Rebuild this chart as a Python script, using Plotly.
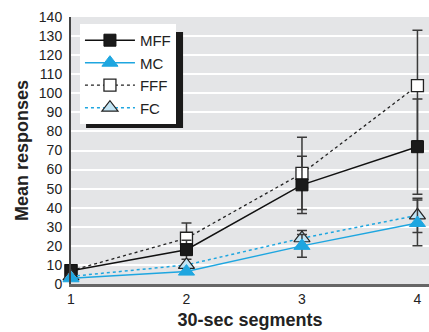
import plotly.graph_objects as go

segments = [1, 2, 3, 4]
mff = [7, 18, 52, 72]
mff_err = [0, 5, 15, 25]
mc = [3, 6.5, 20, 32]
mc_err = [0, 0, 6, 12]
fff = [7, 24, 58, 104]
fff_err = [0, 8, 19, 29]
fc = [4, 10, 24, 36]
fc_err = [0, 0, 4, 9]
y_ticks = list(range(0, 141, 10))

FONT = "Liberation Sans Narrow, Arial Narrow, Liberation Sans, Arial"
BLUE = "#1ea6e0"
ERR = "#3a3a3a"

def err(arr):
    return dict(type="data", array=arr, visible=True, color=ERR, thickness=1.5, width=5)

fig = go.Figure()
fig.add_trace(go.Scatter(x=segments, y=fff, name="FFF", mode="lines+markers", legendrank=3,
                         line=dict(color="#222", width=1.3, dash="dot"),
                         marker=dict(symbol="square", size=12, color="white", line=dict(color="#222", width=1.3)),
                         error_y=err(fff_err), cliponaxis=False))
fig.add_trace(go.Scatter(x=segments, y=mff, name="MFF", mode="lines+markers", legendrank=1,
                         line=dict(color="#111", width=1.5),
                         marker=dict(symbol="square", size=12, color="#1a1a1a", line=dict(color="#111", width=1)),
                         error_y=err(mff_err), cliponaxis=False))
fig.add_trace(go.Scatter(x=segments, y=fc, name="FC", mode="lines+markers", legendrank=4,
                         line=dict(color=BLUE, width=1.5, dash="dot"),
                         marker=dict(symbol="triangle-up", size=14, color="#c2e4f4", line=dict(color="#222", width=1.2)),
                         error_y=err(fc_err), cliponaxis=False))
fig.add_trace(go.Scatter(x=segments, y=mc, name="MC", mode="lines+markers", legendrank=2,
                         line=dict(color=BLUE, width=1.5),
                         marker=dict(symbol="triangle-up", size=14, color=BLUE, line=dict(color=BLUE, width=1)),
                         error_y=err(mc_err), cliponaxis=False))

# legend shadow
fig.add_shape(type="rect", xref="paper", yref="paper", x0=0.042, x1=0.313, y0=0.584, y1=0.944,
              fillcolor="#1a1a1a", line=dict(width=0), layer="above")

fig.update_layout(
    width=429, height=332,
    margin=dict(l=71, r=0, t=17, b=48),
    paper_bgcolor="white", plot_bgcolor="#e4e5e7",
    font=dict(family=FONT, size=14, color="#222"),
    showlegend=True,
    legend=dict(x=0.025, y=0.974, xanchor="left", yanchor="top", bgcolor="white",
                borderwidth=0, font=dict(family=FONT, size=15, color="#222"),
                itemwidth=50, traceorder="normal", entrywidth=35),
    xaxis=dict(range=[1, 4.1], tickvals=segments, ticktext=[str(s) for s in segments],
               showgrid=False, zeroline=False, showline=True, linecolor="#666", linewidth=2.5,
               ticks="", tickfont=dict(size=14, family=FONT),
               title=dict(text="<b>30-sec segments</b>", font=dict(size=18, family=FONT), standoff=8)),
    yaxis=dict(range=[0, 140], tickvals=y_ticks, showgrid=True, gridcolor="white", gridwidth=1.5,
               zeroline=False, showline=True, linecolor="#444", linewidth=2, ticks="",
               tickfont=dict(size=14, family=FONT), ticklabelstandoff=4,
               title=dict(text="<b>Mean responses</b>", font=dict(size=18, family=FONT), standoff=6)),
)

fig.write_html("out.html")
